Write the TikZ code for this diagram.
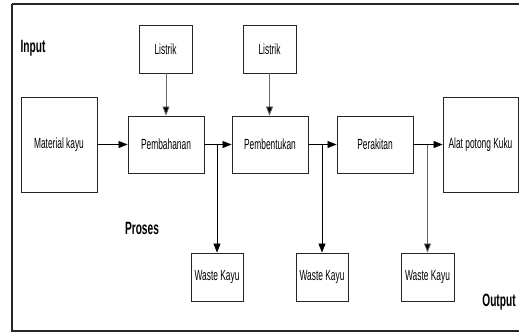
\documentclass[tikz,border=0pt]{standalone}
\usepackage{fontspec}
\setmainfont{Liberation Sans}[FakeStretch=0.57]
\usetikzlibrary{arrows.meta}
\begin{document}
\begin{tikzpicture}[x=1pt,y=-1pt,
  box/.style={draw=black!85,line width=0.9pt,inner sep=0pt,font=\fontsize{14.7}{16}\selectfont},
  smallbox/.style={box,minimum width=53pt,minimum height=48pt},
  procbox/.style={box,minimum width=76pt,minimum height=57pt},
  bigbox/.style={box,minimum width=76pt,minimum height=95pt},
  flow/.style={draw=black,line width=0.8pt,-{Triangle[length=9pt,width=7pt]}},
  feed/.style={draw=black!60,line width=0.8pt,-{Triangle[length=9pt,width=7pt,fill=black]}},
  lbl/.style={font=\bfseries\fontsize{17.8}{19}\selectfont,inner sep=0pt}]
\useasboundingbox (0,0) rectangle (519,333);
\draw[black!85,line width=1.3pt] (12,4) -- (530,4) (12,4) -- (12,331) -- (530,331);
\node[smallbox] (l1) at (165.5,49) {Listrik};
\node[smallbox] (l2) at (269.5,49) {Listrik};
\node[bigbox] (mk) at (59,144.5) {Material kayu};
\node[procbox] (pb) at (166,144.5) {Pembahanan};
\node[procbox] (pt) at (270,144.5) {Pembentukan};
\node[procbox] (pr) at (375,144.5) {Perakitan};
\node[bigbox,minimum width=75pt] (ap) at (480.5,144.5) {Alat potong Kuku};
\node[smallbox,minimum width=52pt] (w1) at (217,277) {Waste Kayu};
\node[smallbox,minimum width=52pt] (w2) at (322,277) {Waste Kayu};
\node[smallbox] (w3) at (427.5,277) {Waste Kayu};
\node[lbl] (in) at (33,48) {Input};
\node[lbl] (ps) at (142,228) {Proses};
\node[lbl] (out) at (499,302) {Output};
\draw[flow] (mk) -- (pb);
\draw[flow] (pb) -- (pt);
\draw[flow] (pt) -- (pr);
\draw[flow] (pr) -- (ap);
\draw[feed] (l1.south -| pb.north) -- (pb.north);
\draw[feed] (l2.south) -- (l2.south |- pt.north);
\draw[flow] (w1.north |- pb.east) -- (w1.north);
\draw[flow] (w2.north |- pt.east) -- (w2.north);
\draw[feed] (w3.north |- pr.east) -- (w3.north);
\end{tikzpicture}
\end{document}
